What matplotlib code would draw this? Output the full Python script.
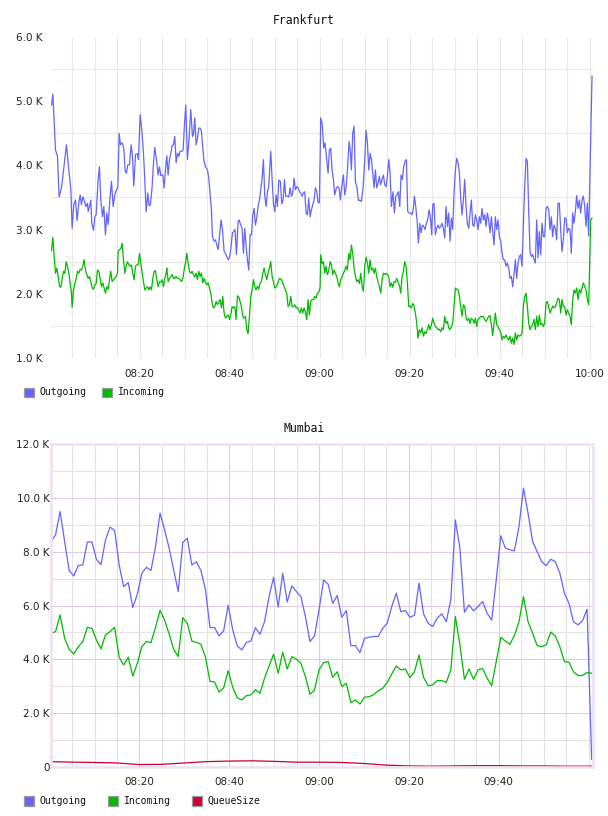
import numpy as np
import matplotlib
matplotlib.use("Agg")
import matplotlib.pyplot as plt
from matplotlib.patches import Rectangle

# Frankfurt: (minutes after 08:00, thousands)
fra_out = [
	(0.41, 4.94), (0.71, 5.11), (1.30, 4.24), (1.74, 4.14), (2.11, 3.51), (2.63, 3.65), (3.15, 3.96), (3.74, 4.32),
	(4.26, 3.93), (4.71, 3.62), (5.00, 3.02), (5.37, 3.39), (5.74, 3.46), (6.11, 3.14), (6.48, 3.41), (6.78, 3.54),
	(7.07, 3.39), (7.37, 3.51), (7.67, 3.46), (8.04, 3.36), (8.41, 3.41), (8.56, 3.28), (8.85, 3.36), (9.15, 3.46),
	(9.37, 3.10), (9.74, 2.99), (10.04, 3.20), (10.33, 3.23), (10.78, 3.78), (11.07, 3.98), (11.37, 3.46), (11.74, 3.20),
	(12.04, 3.36), (12.41, 2.92), (12.70, 3.26), (13.00, 3.08), (13.37, 3.46), (13.74, 3.75), (14.11, 3.36), (14.48, 3.54),
	(14.85, 3.62), (15.15, 3.65), (15.45, 4.50), (15.74, 4.32), (16.11, 4.35), (16.48, 4.27), (16.78, 3.91), (17.08, 3.88),
	(17.37, 4.01), (17.74, 4.01), (18.11, 4.32), (18.41, 4.14), (18.70, 3.68), (19.08, 4.17), (19.52, 4.18), (19.74, 4.09),
	(20.11, 4.79), (20.48, 4.55), (20.78, 4.27), (21.08, 3.88), (21.45, 3.28), (21.82, 3.57), (22.11, 3.37), (22.41, 3.39),
	(22.78, 3.67), (23.08, 4.04), (23.37, 4.28), (23.74, 4.09), (24.11, 3.85), (24.41, 3.98), (24.70, 3.84), (25.15, 3.85),
	(25.45, 3.65), (25.74, 3.93), (26.04, 4.15), (26.33, 3.85), (26.63, 4.09), (26.93, 4.19), (27.23, 4.31), (27.52, 4.32),
	(27.82, 4.45), (28.11, 4.04), (28.41, 4.19), (28.71, 4.14), (29.00, 4.22), (29.30, 4.22), (29.67, 4.24), (29.96, 4.63),
	(30.26, 4.94), (30.63, 4.09), (31.00, 4.42), (31.37, 4.87), (31.74, 4.45), (31.96, 4.48), (32.26, 4.74), (32.56, 4.32),
	(32.85, 4.42), (33.15, 4.58), (33.45, 4.58), (33.74, 4.53), (34.04, 4.27), (34.33, 4.06), (34.63, 3.98), (35.08, 3.93),
	(35.37, 3.80), (35.67, 3.54), (35.96, 3.31), (36.19, 2.89), (36.56, 2.82), (36.85, 2.84), (37.15, 2.76), (37.45, 2.69),
	(37.82, 2.95), (38.11, 3.15), (38.41, 3.00), (38.78, 2.66), (39.08, 2.63), (39.37, 2.58), (39.67, 2.53), (40.04, 2.58),
	(40.33, 2.74), (40.63, 2.95), (40.93, 2.97), (41.22, 3.00), (41.52, 2.61), (41.89, 3.13), (42.11, 3.15), (42.48, 3.07),
	(42.78, 3.02), (43.07, 2.63), (43.37, 3.02), (43.67, 2.74), (43.96, 2.53), (44.26, 2.37), (44.56, 2.92), (44.85, 2.92),
	(45.15, 3.23), (45.45, 3.33), (45.74, 3.07), (46.04, 3.18), (46.33, 3.36), (46.63, 3.46), (46.93, 3.62), (47.22, 3.80),
	(47.52, 4.09), (47.82, 3.52), (48.11, 3.36), (48.41, 3.59), (48.70, 3.67), (49.15, 4.22), (49.45, 3.78), (49.74, 3.41),
	(50.04, 3.28), (50.33, 3.54), (50.63, 3.36), (50.93, 3.77), (51.30, 3.75), (51.59, 3.40), (51.89, 3.46), (52.19, 3.78),
	(52.48, 3.52), (52.85, 3.52), (53.15, 3.51), (53.45, 3.65), (53.74, 3.52), (54.04, 3.57), (54.33, 3.80), (54.63, 3.62),
	(54.93, 3.67), (55.22, 3.65), (55.52, 3.59), (55.82, 3.57), (56.11, 3.52), (56.41, 3.57), (56.70, 3.59), (57.00, 3.26),
	(57.30, 3.23), (57.59, 3.49), (57.89, 3.20), (58.19, 3.31), (58.48, 3.39), (58.78, 3.46), (59.08, 3.65), (59.37, 3.59),
	(59.67, 3.42), (59.96, 3.42), (60.26, 4.74), (60.56, 4.66), (60.93, 4.27), (61.22, 4.35), (61.52, 4.14), (61.89, 3.88),
	(62.19, 4.24), (62.48, 4.27), (62.78, 3.93), (63.07, 3.78), (63.37, 3.54), (63.74, 3.65), (64.04, 3.67), (64.33, 3.65),
	(64.63, 3.46), (65.00, 3.72), (65.30, 3.85), (65.59, 3.54), (65.89, 3.65), (66.19, 3.93), (66.56, 4.37), (66.85, 4.22),
	(67.07, 3.93), (67.37, 4.50), (67.67, 4.61), (67.96, 3.75), (68.33, 3.65), (68.63, 3.45), (68.93, 3.46), (69.30, 3.44),
	(69.67, 3.65), (70.04, 4.09), (70.33, 4.55), (70.63, 4.35), (70.93, 3.93), (71.22, 4.19), (71.52, 4.09), (71.82, 3.88),
	(72.11, 3.65), (72.41, 3.93), (72.70, 3.65), (73.00, 3.72), (73.30, 3.83), (73.59, 3.70), (73.89, 3.78), (74.19, 3.85),
	(74.48, 3.70), (74.78, 3.67), (75.07, 3.83), (75.37, 4.09), (75.67, 3.88), (75.96, 3.36), (76.33, 3.59), (76.63, 3.26),
	(76.93, 3.52), (77.22, 3.54), (77.52, 3.59), (77.82, 3.36), (78.11, 3.85), (78.41, 3.78), (78.70, 3.98), (79.00, 4.06),
	(79.30, 4.09), (79.59, 3.28), (79.89, 3.26), (80.26, 3.26), (80.56, 3.23), (80.85, 3.33), (81.07, 3.52), (81.37, 3.36),
	(81.67, 3.15), (81.96, 2.79), (82.26, 3.10), (82.56, 2.95), (82.85, 3.07), (83.15, 3.05), (83.44, 3.00), (83.74, 3.10),
	(84.04, 3.15), (84.33, 3.31), (84.63, 3.20), (84.93, 2.92), (85.15, 3.39), (85.44, 3.41), (85.74, 2.92), (86.04, 3.02),
	(86.33, 3.07), (86.63, 3.02), (86.93, 3.05), (87.22, 3.10), (87.52, 3.02), (87.81, 2.87), (88.11, 3.36), (88.41, 3.05),
	(88.70, 3.26), (89.00, 2.82), (89.30, 3.18), (89.59, 3.00), (89.89, 3.57), (90.19, 3.93), (90.48, 4.11), (90.78, 4.04),
	(91.07, 3.88), (91.37, 3.49), (91.67, 3.23), (91.96, 3.46), (92.26, 3.78), (92.56, 3.36), (92.85, 3.10), (93.15, 3.02),
	(93.44, 3.26), (93.74, 3.46), (94.04, 3.07), (94.33, 3.05), (94.63, 3.23), (94.93, 3.15), (95.22, 3.00), (95.52, 3.20),
	(95.81, 3.10), (96.11, 3.33), (96.41, 3.15), (96.70, 3.23), (97.00, 3.05), (97.30, 3.26), (97.59, 3.15), (97.89, 2.95),
	(98.19, 3.20), (98.48, 2.97), (98.78, 2.76), (99.07, 3.20), (99.37, 3.00), (99.67, 3.15), (99.96, 2.89), (100.26, 2.82),
	(100.56, 2.63), (100.85, 2.53), (101.15, 2.53), (101.44, 2.43), (101.74, 2.48), (102.04, 2.40), (102.33, 2.24), (102.63, 2.27),
	(102.93, 2.11), (103.22, 2.30), (103.52, 2.53), (103.81, 2.24), (104.11, 2.48), (104.41, 2.58), (104.70, 2.61), (105.00, 2.43),
	(105.30, 3.05), (105.59, 3.67), (105.89, 4.11), (106.19, 4.06), (106.48, 3.31), (106.78, 2.66), (107.07, 2.58), (107.37, 2.61),
	(107.67, 2.53), (107.96, 2.48), (108.26, 3.15), (108.56, 2.56), (108.85, 2.97), (109.15, 2.61), (109.44, 3.10), (109.74, 2.89),
	(110.04, 2.89), (110.33, 3.33), (110.63, 3.36), (110.93, 3.31), (111.22, 3.00), (111.52, 3.20), (111.81, 2.89), (112.11, 3.07),
	(112.41, 3.02), (112.70, 2.84), (113.00, 3.41), (113.30, 3.41), (113.59, 3.00), (113.89, 2.66), (114.19, 2.84), (114.48, 3.18),
	(114.78, 3.18), (115.07, 2.95), (115.37, 3.02), (115.67, 3.00), (115.96, 2.63), (116.26, 3.26), (116.56, 3.10), (116.85, 3.28),
	(117.15, 3.53), (117.44, 3.33), (117.74, 3.46), (118.04, 3.26), (118.33, 3.46), (118.63, 3.52), (118.93, 3.36), (119.22, 3.05),
	(119.52, 3.41), (119.81, 2.90), (120.56, 5.39),
]

fra_in = [
	(0.41, 2.67), (0.71, 2.88), (1.00, 2.58), (1.30, 2.32), (1.60, 2.40), (1.89, 2.27), (2.19, 2.12), (2.48, 2.10),
	(2.78, 2.24), (3.08, 2.35), (3.37, 2.32), (3.67, 2.50), (3.97, 2.43), (4.26, 2.32), (4.56, 2.16), (4.85, 2.01),
	(5.00, 1.79), (5.30, 2.06), (5.60, 2.16), (5.89, 2.24), (6.19, 2.35), (6.48, 2.32), (6.78, 2.38), (7.08, 2.37),
	(7.37, 2.43), (7.67, 2.53), (7.97, 2.37), (8.26, 2.30), (8.56, 2.24), (8.85, 2.27), (9.15, 2.19), (9.45, 2.09),
	(9.74, 2.07), (10.04, 2.14), (10.34, 2.16), (10.63, 2.37), (10.93, 2.35), (11.22, 2.24), (11.52, 2.11), (11.82, 2.17),
	(12.11, 2.09), (12.41, 2.01), (12.71, 2.11), (13.00, 2.07), (13.30, 2.22), (13.59, 2.35), (13.89, 2.19), (14.19, 2.22),
	(14.48, 2.24), (14.78, 2.27), (15.08, 2.32), (15.22, 2.66), (15.52, 2.69), (15.82, 2.70), (16.11, 2.79), (16.41, 2.53),
	(16.71, 2.32), (17.00, 2.43), (17.30, 2.50), (17.59, 2.45), (17.89, 2.43), (18.19, 2.45), (18.48, 2.32), (18.78, 2.22),
	(19.08, 2.43), (19.37, 2.45), (19.67, 2.45), (19.97, 2.63), (20.26, 2.48), (20.56, 2.32), (20.85, 2.19), (21.15, 2.06),
	(21.45, 2.09), (21.74, 2.11), (22.04, 2.06), (22.34, 2.11), (22.63, 2.06), (22.93, 2.24), (23.23, 2.35), (23.52, 2.36),
	(23.82, 2.22), (24.11, 2.11), (24.41, 2.19), (24.71, 2.18), (25.00, 2.22), (25.30, 2.11), (25.60, 2.24), (25.89, 2.32),
	(26.04, 2.40), (26.34, 2.19), (26.63, 2.24), (26.93, 2.27), (27.23, 2.30), (27.52, 2.24), (27.82, 2.24), (28.11, 2.27),
	(28.41, 2.24), (28.71, 2.24), (29.00, 2.22), (29.30, 2.19), (29.60, 2.24), (29.89, 2.37), (30.19, 2.48), (30.48, 2.63),
	(30.78, 2.48), (31.08, 2.35), (31.37, 2.32), (31.67, 2.35), (31.96, 2.30), (32.26, 2.26), (32.56, 2.32), (32.85, 2.22),
	(33.15, 2.35), (33.45, 2.27), (33.74, 2.32), (34.04, 2.17), (34.34, 2.24), (34.63, 2.18), (34.93, 2.14), (35.22, 2.17),
	(35.52, 2.09), (35.82, 2.01), (36.11, 1.86), (36.41, 1.78), (36.71, 1.80), (37.00, 1.88), (37.30, 1.83), (37.59, 1.87),
	(37.89, 1.91), (38.19, 1.78), (38.48, 1.96), (38.78, 1.70), (39.08, 1.62), (39.37, 1.65), (39.67, 1.67), (39.97, 1.60),
	(40.26, 1.67), (40.56, 1.80), (40.85, 1.78), (41.15, 1.80), (41.45, 1.60), (41.74, 1.97), (42.04, 1.95), (42.34, 1.88),
	(42.63, 1.80), (42.93, 1.65), (43.22, 1.62), (43.52, 1.65), (43.82, 1.44), (44.11, 1.38), (44.41, 1.65), (44.71, 1.96),
	(45.00, 2.06), (45.30, 2.22), (45.60, 2.11), (45.89, 2.06), (46.19, 2.12), (46.48, 2.07), (46.78, 2.17), (47.08, 2.19),
	(47.37, 2.32), (47.67, 2.40), (47.97, 2.30), (48.26, 2.22), (48.56, 2.32), (48.85, 2.40), (49.15, 2.50), (49.45, 2.27),
	(49.74, 2.19), (50.04, 2.09), (50.34, 2.11), (50.63, 2.14), (50.93, 2.22), (51.22, 2.24), (51.52, 2.22), (51.82, 2.17),
	(52.11, 2.11), (52.41, 2.06), (52.71, 2.01), (53.00, 1.80), (53.30, 1.83), (53.59, 1.96), (53.89, 1.80), (54.19, 1.80),
	(54.48, 1.83), (54.78, 1.78), (55.08, 1.79), (55.37, 1.75), (55.67, 1.70), (55.97, 1.78), (56.26, 1.70), (56.56, 1.78),
	(56.85, 1.72), (57.15, 1.60), (57.45, 1.91), (57.74, 1.67), (58.04, 1.88), (58.34, 1.91), (58.63, 1.91), (58.93, 1.96),
	(59.22, 1.93), (59.52, 2.01), (59.82, 2.02), (60.11, 2.09), (60.26, 2.61), (60.56, 2.47), (60.86, 2.50), (61.15, 2.32),
	(61.45, 2.43), (61.74, 2.30), (62.04, 2.36), (62.34, 2.50), (62.63, 2.45), (62.93, 2.30), (63.23, 2.37), (63.52, 2.32),
	(63.82, 2.27), (64.11, 2.17), (64.41, 2.11), (64.71, 2.22), (65.00, 2.27), (65.30, 2.32), (65.60, 2.37), (65.89, 2.43),
	(66.19, 2.37), (66.49, 2.63), (66.78, 2.53), (67.08, 2.76), (67.37, 2.63), (67.67, 2.40), (67.97, 2.27), (68.26, 2.19),
	(68.56, 2.22), (68.86, 2.16), (69.15, 2.32), (69.45, 2.11), (69.74, 2.04), (70.04, 2.43), (70.34, 2.57), (70.63, 2.48),
	(70.93, 2.32), (71.23, 2.53), (71.52, 2.37), (71.82, 2.40), (72.11, 2.32), (72.41, 2.40), (72.71, 2.27), (73.00, 2.18),
	(73.30, 2.11), (73.60, 2.01), (73.89, 2.22), (74.19, 2.32), (74.48, 2.30), (74.78, 2.32), (75.08, 2.30), (75.37, 2.27),
	(75.67, 2.11), (75.97, 2.17), (76.26, 2.10), (76.56, 2.19), (76.86, 2.18), (77.15, 2.24), (77.45, 2.18), (77.74, 2.13),
	(78.04, 2.01), (78.34, 2.27), (78.63, 2.35), (78.93, 2.50), (79.23, 2.43), (79.52, 2.17), (79.82, 1.80), (80.11, 1.81),
	(80.41, 1.78), (80.71, 1.85), (81.00, 1.81), (81.30, 1.70), (81.60, 1.54), (81.89, 1.31), (82.19, 1.44), (82.48, 1.39),
	(82.78, 1.47), (83.08, 1.34), (83.37, 1.41), (83.67, 1.38), (83.97, 1.44), (84.26, 1.52), (84.56, 1.44), (84.86, 1.52),
	(85.15, 1.62), (85.45, 1.54), (85.74, 1.49), (86.04, 1.47), (86.34, 1.44), (86.63, 1.45), (86.93, 1.41), (87.23, 1.47),
	(87.52, 1.44), (87.82, 1.65), (88.11, 1.54), (88.41, 1.57), (88.71, 1.47), (89.00, 1.44), (89.30, 1.49), (89.60, 1.54),
	(89.89, 1.80), (90.19, 2.09), (90.48, 2.07), (90.78, 2.06), (91.08, 1.96), (91.37, 1.80), (91.67, 1.65), (91.97, 1.83),
	(92.26, 1.80), (92.56, 1.62), (92.85, 1.58), (93.15, 1.62), (93.45, 1.54), (93.74, 1.62), (94.04, 1.60), (94.34, 1.54),
	(94.63, 1.62), (94.93, 1.49), (95.22, 1.60), (95.52, 1.62), (95.82, 1.65), (96.11, 1.64), (96.41, 1.65), (96.71, 1.60),
	(97.00, 1.57), (97.30, 1.61), (97.60, 1.65), (97.89, 1.66), (98.19, 1.52), (98.48, 1.35), (98.78, 1.54), (99.08, 1.70),
	(99.37, 1.52), (99.67, 1.49), (99.97, 1.44), (100.26, 1.41), (100.56, 1.28), (100.85, 1.34), (101.15, 1.31), (101.45, 1.36),
	(101.74, 1.31), (102.04, 1.28), (102.34, 1.34), (102.63, 1.23), (102.93, 1.31), (103.22, 1.21), (103.52, 1.39), (103.82, 1.28),
	(104.11, 1.36), (104.41, 1.34), (104.71, 1.35), (105.00, 1.39), (105.30, 1.80), (105.60, 1.96), (105.89, 2.01), (106.19, 1.80),
	(106.49, 1.54), (106.78, 1.44), (107.08, 1.49), (107.37, 1.52), (107.67, 1.60), (107.97, 1.44), (108.26, 1.65), (108.56, 1.49),
	(108.86, 1.67), (109.15, 1.52), (109.45, 1.54), (109.74, 1.49), (110.04, 1.54), (110.34, 1.86), (110.63, 1.88), (110.93, 1.80),
	(111.23, 1.70), (111.52, 1.75), (111.82, 1.81), (112.11, 1.78), (112.41, 1.80), (112.71, 1.86), (113.00, 1.93), (113.30, 1.91),
	(113.60, 1.70), (113.89, 1.91), (114.19, 1.80), (114.48, 1.80), (114.78, 1.67), (115.08, 1.75), (115.37, 1.70), (115.67, 1.65),
	(115.97, 1.52), (116.26, 1.91), (116.56, 2.06), (116.86, 2.01), (117.15, 2.09), (117.45, 1.91), (117.74, 2.07), (118.04, 2.01),
	(118.34, 2.09), (118.63, 2.17), (118.93, 2.11), (119.23, 2.06), (119.52, 1.91), (119.82, 1.83), (120.26, 3.15), (120.56, 3.18),
]

# Mumbai: one sample a minute, thousands
mum_out = [
	8.38, 8.62, 9.49, 8.38, 7.30, 7.10, 7.48, 7.51, 8.36, 8.36,
	7.72, 7.52, 8.44, 8.91, 8.79, 7.51, 6.70, 6.85, 5.92, 6.42,
	7.20, 7.42, 7.30, 8.19, 9.43, 8.81, 8.13, 7.32, 6.52, 8.34,
	8.50, 7.51, 7.62, 7.30, 6.58, 5.18, 5.18, 4.87, 5.06, 6.01,
	5.09, 4.50, 4.35, 4.63, 4.68, 5.18, 4.93, 5.40, 6.33, 7.05,
	5.94, 7.20, 6.13, 6.73, 6.52, 6.33, 5.59, 4.66, 4.87, 5.84,
	6.95, 6.79, 6.08, 6.37, 5.56, 5.81, 4.51, 4.51, 4.25, 4.78,
	4.82, 4.85, 4.85, 5.15, 5.34, 5.96, 6.46, 5.77, 5.81, 5.56,
	5.64, 6.83, 5.69, 5.34, 5.22, 5.53, 5.69, 5.40, 6.21, 9.18,
	8.13, 5.75, 6.02, 5.80, 5.96, 6.15, 5.71, 5.46, 6.95, 8.59,
	8.13, 8.07, 8.03, 8.93, 10.36, 9.43, 8.38, 8.00, 7.63, 7.48,
	7.72, 7.63, 7.20, 6.46, 6.08, 5.40, 5.28, 5.44, 5.86, 0.28,
]
mum_in = [
	4.97, 5.03, 5.65, 4.78, 4.37, 4.20, 4.47, 4.66, 5.19, 5.15,
	4.72, 4.39, 4.91, 5.03, 5.19, 4.08, 3.79, 4.08, 3.38, 3.85,
	4.47, 4.66, 4.62, 5.19, 5.82, 5.46, 4.94, 4.37, 4.10, 5.55,
	5.34, 4.68, 4.63, 4.56, 4.08, 3.18, 3.16, 2.78, 2.94, 3.58,
	2.96, 2.57, 2.49, 2.65, 2.68, 2.87, 2.74, 3.30, 3.75, 4.19,
	3.48, 4.26, 3.64, 4.10, 4.01, 3.85, 3.36, 2.70, 2.86, 3.61,
	3.88, 3.92, 3.33, 3.54, 2.99, 3.11, 2.39, 2.49, 2.34, 2.59,
	2.61, 2.68, 2.83, 2.92, 3.14, 3.46, 3.75, 3.61, 3.64, 3.32,
	3.54, 4.16, 3.33, 3.02, 3.05, 3.21, 3.21, 3.14, 3.61, 5.59,
	4.54, 3.26, 3.64, 3.26, 3.61, 3.66, 3.30, 3.02, 3.92, 4.81,
	4.68, 4.56, 4.88, 5.40, 6.33, 5.40, 4.97, 4.51, 4.47, 4.54,
	5.01, 4.87, 4.47, 3.92, 3.89, 3.54, 3.40, 3.40, 3.51, 3.48,
]
mum_queue = [
	(0.3, 0.20), (5, 0.18), (10, 0.17), (15, 0.15), (20, 0.09), (25, 0.10), (30, 0.15), (35, 0.20),
	(40, 0.22), (45, 0.23), (50, 0.21), (55, 0.18), (60, 0.18), (65, 0.17), (70, 0.13), (75, 0.07),
	(80, 0.04), (85, 0.03), (90, 0.04), (95, 0.05), (100, 0.05), (105, 0.04), (110, 0.04), (115, 0.03),
	(120.7, 0.03),
]

fra_yticks = [1, 2, 3, 4, 5, 6]
fra_ylabels = ["1.0 K", "2.0 K", "3.0 K", "4.0 K", "5.0 K", "6.0 K"]
mum_yticks = [0, 2, 4, 6, 8, 10, 12]
mum_ylabels = ["0", "2.0 K", "4.0 K", "6.0 K", "8.0 K", "10.0 K", "12.0 K"]
fra_xticks = [20, 40, 60, 80, 100, 120]
fra_xlabels = ["08:20", "08:40", "09:00", "09:20", "09:40", "10:00"]
mum_xticks = [20, 40, 60, 80, 100]
mum_xlabels = ["08:20", "08:40", "09:00", "09:20", "09:40"]

BLUE = "#6464ff"
GREEN = "#00bb00"
RED = "#cc0033"
W, H = 608, 816
MONO = "DejaVu Sans Mono"
LW = 0.9


def fig_box(left, top, right, bottom):
	return [left / W, 1 - bottom / H, (right - left) / W, (bottom - top) / H]


def legend(fig, y, items):
	# items: (swatch x, text x, colour, label)
	for sx, tx, color, label in items:
		fig.patches.append(Rectangle((sx / W, 1 - (y + 5.5) / H), 10 / W, 10 / H,
			transform=fig.transFigure, facecolor=color, edgecolor="#9a9a9a", linewidth=0.9))
		fig.text(tx / W, 1 - y / H, label, ha="left", va="center", family=MONO, size=7, color="#111111")


fig = plt.figure(figsize=(W / 100, H / 100), dpi=100)

# ---- Frankfurt
ax1 = fig.add_axes(fig_box(51, 37, 594, 358))
t, v = np.array(fra_out).T
ax1.plot(t, v, color=BLUE, lw=LW)
t, v = np.array(fra_in).T
ax1.plot(t, v, color=GREEN, lw=LW)
ax1.set_xlim(0.3, 121.0)
ax1.set_ylim(1, 6)
for s in ax1.spines.values():
	s.set_visible(False)
ax1.set_xticks(fra_xticks)
ax1.set_xticklabels(fra_xlabels)
ax1.set_xticks(np.arange(5, 121, 5), minor=True)
ax1.set_yticks(fra_yticks)
ax1.set_yticklabels(fra_ylabels)
ax1.set_yticks(np.arange(1.5, 6, 1.0), minor=True)
ax1.tick_params(which="both", length=0, labelsize=7.5, colors="#222222")
ax1.tick_params(axis="x", pad=8)
ax1.tick_params(axis="y", pad=6)
ax1.grid(axis="x", which="both", color="#e8e8e8", lw=0.8)
ax1.grid(axis="y", which="minor", color="#e8e8e8", lw=0.8)
ax1.set_axisbelow(True)
fig.text(0.5, 1 - 20 / H, "Frankfurt", ha="center", va="center", family=MONO, size=8.3, color="#111111")
legend(fig, 392, [(24, 39, BLUE, "Outgoing"), (102, 118, GREEN, "Incoming")])

# ---- Mumbai
ax2 = fig.add_axes(fig_box(51, 444, 593, 767))
mum_t = np.linspace(0.3, 120.7, len(mum_out))
ax2.plot(mum_t, mum_out, color=BLUE, lw=LW)
ax2.plot(mum_t, mum_in, color=GREEN, lw=LW)
t, v = np.array(mum_queue).T
ax2.plot(t, v, color=RED, lw=LW)
ax2.set_xlim(0.3, 121.0)
ax2.set_ylim(0, 12)
for s in ax2.spines.values():
	s.set_color("#efe0f3")
	s.set_linewidth(1.8)
ax2.set_xticks(mum_xticks)
ax2.set_xticklabels(mum_xlabels)
ax2.set_xticks(np.arange(5, 121, 5), minor=True)
ax2.set_yticks(mum_yticks)
ax2.set_yticklabels(mum_ylabels)
ax2.set_yticks(np.arange(1, 12, 2), minor=True)
ax2.tick_params(which="both", length=0, labelsize=7.5, colors="#222222")
ax2.tick_params(axis="x", pad=7)
ax2.tick_params(axis="y", pad=1)
ax2.grid(which="major", color="#e0cae4", lw=0.8)
ax2.grid(which="minor", color="#e2e2e2", lw=0.8)
ax2.set_axisbelow(True)
fig.text(0.5, 1 - 429 / H, "Mumbai", ha="center", va="center", family=MONO, size=8.3, color="#111111")
legend(fig, 800.5, [(24, 39, BLUE, "Outgoing"), (108, 124, GREEN, "Incoming"), (192, 207, RED, "QueueSize")])

fig.savefig("out.png", dpi=100)
